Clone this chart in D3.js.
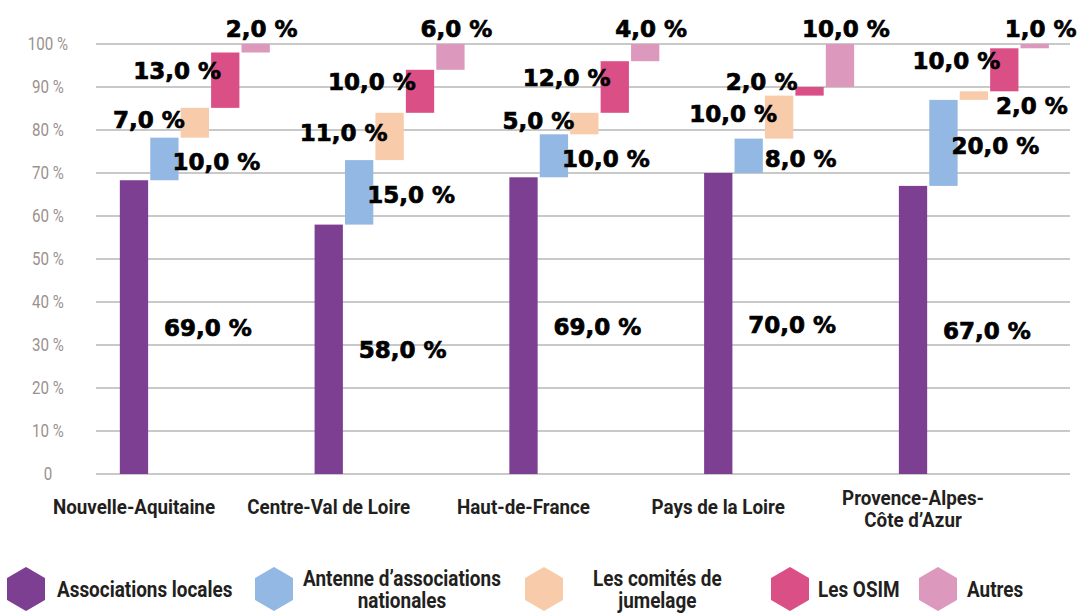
<!DOCTYPE html>
<html>
<head>
<meta charset="utf-8">
<script src="https://cdn.jsdelivr.net/npm/d3@7"></script>
<style>
  body { margin: 0; background: #fff; }
  .tick-y { font-family: Roboto, "DejaVu Sans Condensed", sans-serif; font-size: 18px; fill: #9b918e; }
  .cat { font-family: Roboto, "DejaVu Sans Condensed", sans-serif; font-weight: bold; font-size: 20px; fill: #231f20; }
  .leg { font-family: Roboto, "DejaVu Sans Condensed", sans-serif; font-weight: bold; font-size: 22px; fill: #231f20; }
  .val { font-family: "DejaVu Sans", sans-serif; font-weight: bold; font-size: 23px; fill: #000; stroke: #000; stroke-width: 0.7px; }
</style>
</head>
<body>
<div id="chart"></div>
<script>
// data
const regions = ["Nouvelle-Aquitaine", "Centre-Val de Loire", "Haut-de-France", "Pays de la Loire", "Provence-Alpes-Côte d’Azur"];
const regionLabels = [["Nouvelle-Aquitaine"], ["Centre-Val de Loire"], ["Haut-de-France"], ["Pays de la Loire"], ["Provence-Alpes-", "Côte d’Azur"]];
const series = ["Associations locales", "Antenne d’associations nationales", "Les comités de jumelage", "Les OSIM", "Autres"];
const legendLabels = [["Associations locales"], ["Antenne d’associations", "nationales"], ["Les comités de", "jumelage"], ["Les OSIM"], ["Autres"]];
const localAssoc = [69, 58, 69, 70, 67];
const antennes = [10, 15, 10, 8, 20];
const jumelage = [7, 11, 5, 10, 2];
const osim = [13, 10, 12, 2, 10];
const autres = [2, 6, 4, 10, 1];
const yTicks = [0, 10, 20, 30, 40, 50, 60, 70, 80, 90, 100];

const colors = ["#7d3f91", "#93b8e3", "#f8cbaa", "#db4f87", "#dc99bd"];

// label placement per series (offset from bar centre)
const labelPos = [
    { at: "mid", dx: 74, dy: 1 },
    { at: "mid", dx: 52, dy: 3 },
    { at: "mid", dx: -46, dy: -3 },
    { at: "mid", dx: -48, dy: -9 },
    { at: "top", dx: 6, dy: -15 }
];
const labelNudge = { "4|2": { at: "mid", dx: 58, dy: 10 } };

// narrow look for the condensed texts
function condense(sel, ax, sx) {
    sel.attr("transform", d => {
        const a = typeof ax === "function" ? ax(d) : ax;
        return "translate(" + a + ",0) scale(" + sx + ",1) translate(" + (-a) + ",0)";
    });
}

const width = 1087, height = 613;
const svg = d3.select("#chart").append("svg")
    .attr("width", width)
    .attr("height", height);

const rows = regions.map((r, i) => ({
    region: r,
    [series[0]]: localAssoc[i],
    [series[1]]: antennes[i],
    [series[2]]: jumelage[i],
    [series[3]]: osim[i],
    [series[4]]: autres[i]
}));
const stacked = d3.stack().keys(series).offset(d3.stackOffsetExpand)(rows);

let y = d3.scaleLinear().domain([0, 1]).range([474, 44]);
let x = d3.scaleBand().domain(regions).range([36.6, 1010.4]).padding(0);
let inner = d3.scaleBand().domain(series).range([0, 150]).paddingInner(0.07);

// gridlines
svg.append("g")
    .selectAll("line")
    .data(yTicks)
    .enter()
    .append("line")
    .attr("x1", 96)
    .attr("x2", 1070)
    .attr("y1", d => y(d / 100))
    .attr("y2", d => y(d / 100))
    .attr("stroke", "#c9c9c9")
    .attr("stroke-width", 2);

// y axis labels
svg.append("g")
    .selectAll("text")
    .data(yTicks)
    .enter()
    .append("text")
    .attr("class", "tick-y")
    .attr("x", 48)
    .attr("y", d => y(d / 100))
    .attr("dy", "0.36em")
    .attr("text-anchor", "middle")
    .text(d => d === 0 ? "0" : d + " %")
    .call(condense, 48, 0.84);

const cx = r => x(r) + x.bandwidth() / 2;
const barX = (r, s) => cx(r) - inner.bandwidth() / 2 + inner(s);

// bars
stacked.forEach((layer, si) => {
    svg.append("g")
        .selectAll("rect")
        .data(layer)
        .enter()
        .append("rect")
        .attr("x", d => barX(d.data.region, series[si]))
        .attr("y", d => y(d[1]))
        .attr("width", inner.bandwidth())
        .attr("height", d => y(d[0]) - y(d[1]))
        .attr("fill", colors[si]);
});

// value labels
const fmt = v => d3.format(".1f")(v).replace(".", ",") + " %";
const raw = [localAssoc, antennes, jumelage, osim, autres];
stacked.forEach((layer, si) => {
    svg.append("g")
        .selectAll("text")
        .data(layer)
        .enter()
        .append("text")
        .attr("class", "val")
        .attr("text-anchor", "middle")
        .attr("dominant-baseline", "central")
        .attr("x", (d, ri) => {
            const p = labelNudge[ri + "|" + si] || labelPos[si];
            return barX(d.data.region, series[si]) + inner.bandwidth() / 2 + p.dx;
        })
        .attr("y", (d, ri) => {
            const p = labelNudge[ri + "|" + si] || labelPos[si];
            const base = p.at === "top" ? y(d[1]) : (y(d[0]) + y(d[1])) / 2;
            return base + p.dy;
        })
        .text((d, ri) => fmt(raw[si][ri]));
});

// category labels
const cats = svg.append("g")
    .selectAll("text")
    .data(regions)
    .enter()
    .append("text")
    .attr("class", "cat")
    .attr("text-anchor", "middle")
    .attr("x", d => cx(d))
    .attr("y", (d, i) => regionLabels[i].length > 1 ? 505 : 514)
    .call(condense, d => cx(d), 0.94);
cats.each(function (d, i) {
    d3.select(this).selectAll("tspan")
        .data(regionLabels[i])
        .enter()
        .append("tspan")
        .attr("x", cx(d))
        .attr("dy", (t, j) => j === 0 ? 0 : 22)
        .text(t => t);
});

// legend
const legendHexX = [26, 274, 544, 790, 938];
const legendTextX = [57, 303, 593, 818, 967];
const LSX = 0.86;
const hexW = 36, hexH = 42;
const hexPts = [[0, -hexH / 2], [hexW / 2, -hexH / 4], [hexW / 2, hexH / 4], [0, hexH / 2], [-hexW / 2, hexH / 4], [-hexW / 2, -hexH / 4]];
const hexLine = d3.line().curve(d3.curveLinearClosed);

series.forEach((s, i) => {
    const g = svg.append("g");
    g.append("path")
        .attr("transform", "translate(" + legendHexX[i] + ",589)")
        .attr("d", hexLine(hexPts))
        .attr("fill", colors[i])
        .attr("stroke", colors[i])
        .attr("stroke-width", 2)
        .attr("stroke-linejoin", "round");
    const lines = legendLabels[i];
    const t = g.append("text").attr("class", "leg");
    if (lines.length === 1) {
        t.attr("x", legendTextX[i]).attr("y", 597).text(lines[0]);
        condense(t, legendTextX[i], LSX);
    } else {
        // measure widest line, then centre block
        const probe = g.append("text").attr("class", "leg").text(lines[0]);
        const w = probe.node().getComputedTextLength() * LSX;
        probe.remove();
        const mid = legendTextX[i] + w / 2;
        t.attr("text-anchor", "middle");
        t.selectAll("tspan")
            .data(lines)
            .enter()
            .append("tspan")
            .attr("x", mid)
            .attr("y", (l, j) => j === 0 ? 586 : 608)
            .text(l => l);
        condense(t, mid, LSX);
    }
});
</script>
</body>
</html>
